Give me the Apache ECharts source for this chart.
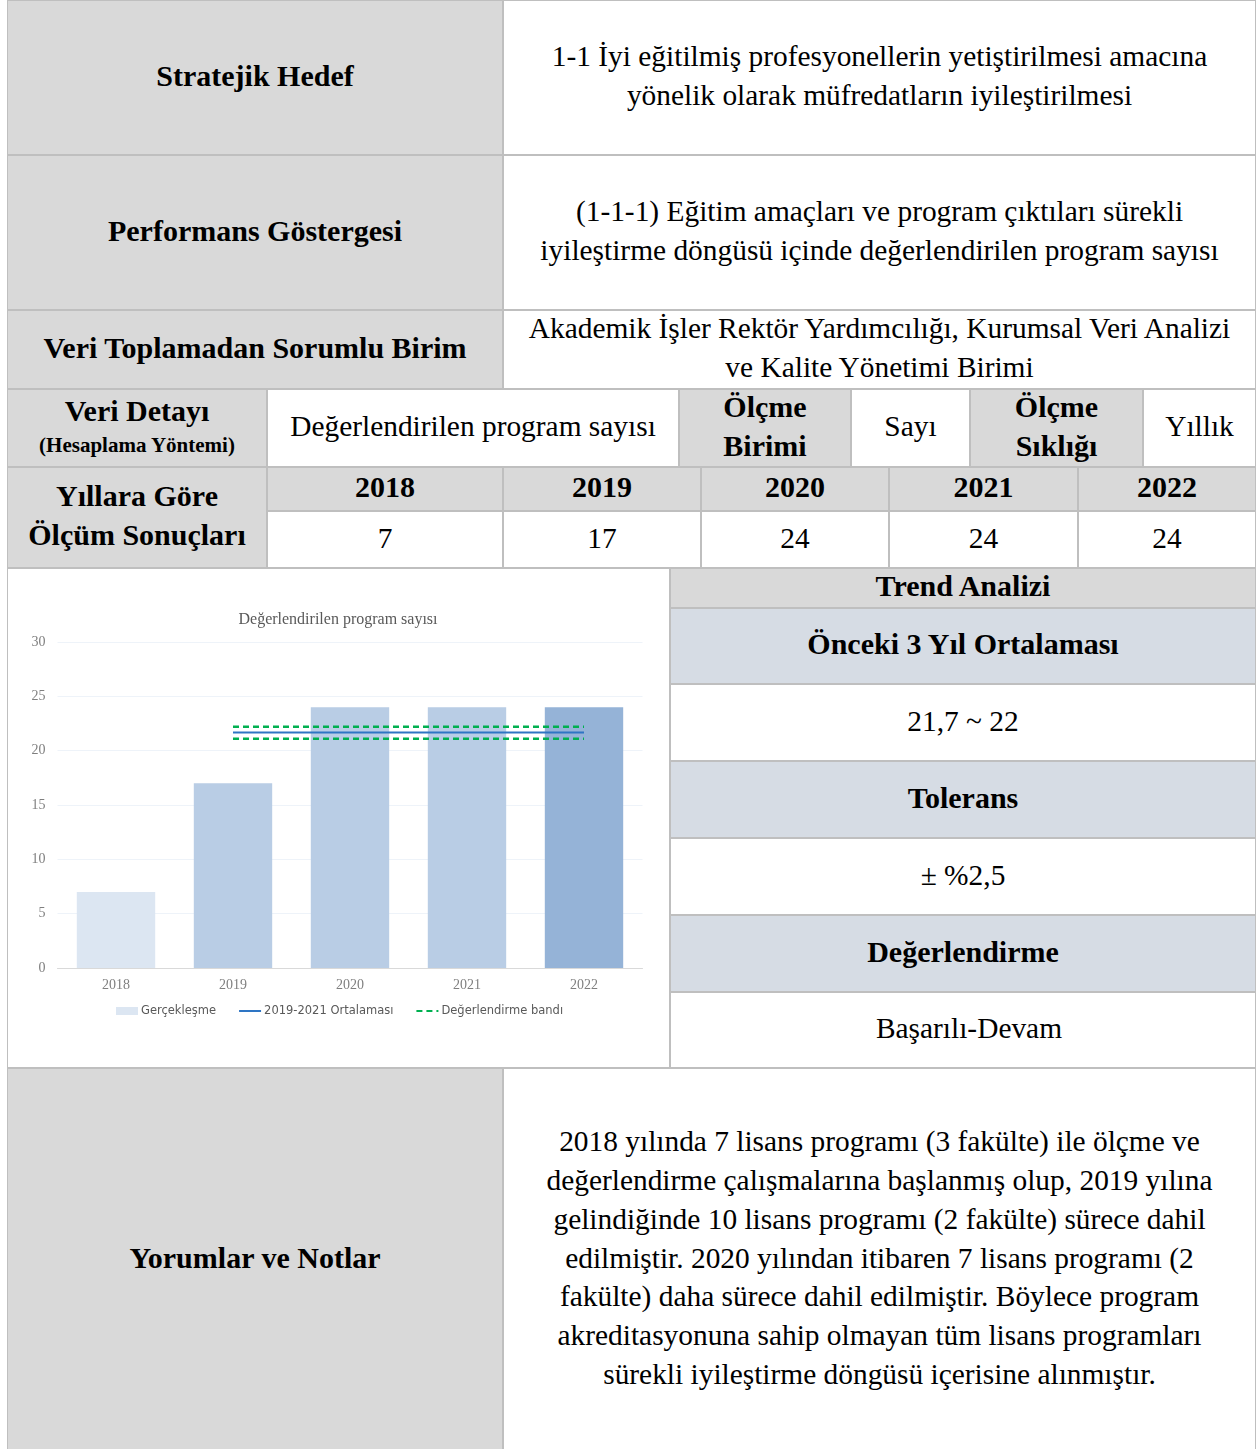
<!DOCTYPE html>
<html>
<head>
<meta charset="utf-8">
<script src="https://cdn.jsdelivr.net/npm/echarts/dist/echarts.min.js"></script>
<style>
html,body{margin:0;padding:0;background:#fff;}
body{width:1258px;height:1449px;overflow:hidden;position:relative;}
.c{position:absolute;box-sizing:border-box;border:1px solid #bfbfbf;padding-bottom:3px;display:flex;align-items:center;justify-content:center;text-align:center;font-family:'Liberation Serif','Times New Roman',serif;font-size:29.4px;line-height:38.8px;color:#000;white-space:nowrap;}
.c b{font-weight:bold;font-size:30px;}
.c b.s{font-size:21px;line-height:32px;display:block;}
.l{display:block;line-height:36px;}
#chart{position:absolute;left:8px;top:569px;width:660px;height:498px;}
</style>
</head>
<body>
<div id="chart"></div>
<script>
// ---- data ----
const years = ['2018', '2019', '2020', '2021', '2022'];
const measured = [7, 17, 24, 24, 24];
const average = [null, 21.67, 21.67, 21.67, 21.67];
const bandUpper = [null, 22.2, 22.2, 22.2, 22.2];
const bandLower = [null, 21.1, 21.1, 21.1, 21.1];
const yTicks = { min: 0, max: 30, interval: 5 };
const seriesNames = ['Gerçekleşme', '2019-2021 Ortalaması', 'Değerlendirme bandı'];
const chartTitle = 'Değerlendirilen program sayısı';

// ---- table layout ----
const G = '#d9d9d9', B = '#d6dce4', W = '#ffffff';
const cells = [
  [7, 0, 503, 155, G, '<b>Stratejik Hedef</b>'],
  [503, 0, 1256, 155, W, '1-1 İyi eğitilmiş profesyonellerin yetiştirilmesi amacına<br>yönelik olarak müfredatların iyileştirilmesi'],
  [7, 155, 503, 310, G, '<b>Performans Göstergesi</b>'],
  [503, 155, 1256, 310, W, '(1-1-1) Eğitim amaçları ve program çıktıları sürekli<br>iyileştirme döngüsü içinde değerlendirilen program sayısı'],
  [7, 310, 503, 389, G, '<b>Veri Toplamadan Sorumlu Birim</b>'],
  [503, 310, 1256, 389, W, 'Akademik İşler Rektör Yardımcılığı, Kurumsal Veri Analizi<br>ve Kalite Yönetimi Birimi'],
  [7, 389, 267, 467, G, '<div><b class="l">Veri Detayı</b><b class="s">(Hesaplama Yöntemi)</b></div>'],
  [267, 389, 679, 467, W, 'Değerlendirilen program sayısı'],
  [679, 389, 851, 467, G, '<b>Ölçme<br>Birimi</b>'],
  [851, 389, 970, 467, W, 'Sayı'],
  [970, 389, 1143, 467, G, '<b>Ölçme<br>Sıklığı</b>'],
  [1143, 389, 1256, 467, W, 'Yıllık'],
  [7, 467, 267, 568, G, '<b>Yıllara Göre<br>Ölçüm Sonuçları</b>'],
  [7, 568, 670, 1068, W, ''],
  [670, 568, 1256, 608, G, '<b>Trend Analizi</b>'],
  [670, 608, 1256, 684, B, '<b>Önceki 3 Yıl Ortalaması</b>'],
  [670, 684, 1256, 761, W, '21,7 ~ 22'],
  [670, 761, 1256, 838, B, '<b>Tolerans</b>'],
  [670, 838, 1256, 915, W, '± %2,5'],
  [670, 915, 1256, 992, B, '<b>Değerlendirme</b>'],
  [670, 992, 1256, 1068, W, '<span style="padding-left:12px">Başarılı-Devam</span>'],
  [7, 1068, 503, 1451, G, '<b>Yorumlar ve Notlar</b>'],
  [503, 1068, 1256, 1451, W, '2018 yılında 7 lisans programı (3 fakülte) ile ölçme ve<br>değerlendirme çalışmalarına başlanmış olup, 2019 yılına<br>gelindiğinde 10 lisans programı (2 fakülte) sürece dahil<br>edilmiştir. 2020 yılından itibaren 7 lisans programı (2<br>fakülte) daha sürece dahil edilmiştir. Böylece program<br>akreditasyonuna sahip olmayan tüm lisans programları<br>sürekli iyileştirme döngüsü içerisine alınmıştır.']
];
const yearX = [267, 503, 701, 889, 1078, 1256];
years.forEach((y, i) => {
  cells.push([yearX[i], 467, yearX[i + 1], 511, G, '<b>' + y + '</b>']);
  cells.push([yearX[i], 511, yearX[i + 1], 568, W, String(measured[i])]);
});
const chartEl = document.getElementById('chart');
cells.forEach(c => {
  const d = document.createElement('div');
  d.className = 'c';
  d.style.left = c[0] + 'px';
  d.style.top = c[1] + 'px';
  d.style.width = (c[2] - c[0]) + 'px';
  d.style.height = (c[3] - c[1]) + 'px';
  d.style.background = c[4];
  d.innerHTML = c[5];
  document.body.insertBefore(d, chartEl);
});

// ---- chart ----
const barColors = ['#dce6f2', '#b9cde5', '#b9cde5', '#b9cde5', '#95b3d7'];
const chart = echarts.init(chartEl, null, { renderer: 'canvas' });
chart.setOption({
  animation: false,
  backgroundColor: 'transparent',
  title: {
    text: chartTitle,
    left: 'center',
    top: 43,
    padding: 0,
    textStyle: { fontFamily: 'Liberation Serif', fontSize: 16, fontWeight: 'normal', color: '#595959' }
  },
  grid: { left: 49.5, right: 25.5, top: 73, bottom: 99, containLabel: false },
  legend: {
    left: 108,
    top: 436,
    padding: 0,
    itemWidth: 22,
    itemHeight: 8,
    itemGap: 22,
    textStyle: { fontFamily: 'DejaVu Sans', fontSize: 11.5, color: '#595959', padding: [0, 0, 0, -2] },
    data: [
      { name: seriesNames[0], icon: 'rect' },
      { name: seriesNames[1], itemStyle: { opacity: 0 } },
      { name: seriesNames[2], itemStyle: { opacity: 0 } }
    ]
  },
  xAxis: {
    type: 'category',
    data: years,
    axisTick: { show: false },
    axisLine: { lineStyle: { color: '#d9d9d9', width: 1 } },
    axisLabel: { fontFamily: 'Liberation Serif', fontSize: 14, color: '#7f7f7f', margin: 10 }
  },
  yAxis: {
    type: 'value',
    min: yTicks.min,
    max: yTicks.max,
    interval: yTicks.interval,
    axisLine: { show: false },
    axisTick: { show: false },
    splitLine: { lineStyle: { color: '#eef3f9', width: 1 } },
    axisLabel: { fontFamily: 'Liberation Serif', fontSize: 14, color: '#7f7f7f', margin: 12 }
  },
  series: [
    {
      name: seriesNames[0],
      type: 'bar',
      barCategoryGap: '33%',
      itemStyle: { color: barColors[0] },
      data: measured.map((v, i) => ({ value: v, itemStyle: { color: barColors[i] } }))
    },
    {
      name: seriesNames[1],
      type: 'line',
      symbol: 'none',
      data: average,
      lineStyle: { color: '#2e75c4', width: 2 },
      itemStyle: { color: '#2e75c4' },
      z: 5
    },
    {
      name: seriesNames[2],
      type: 'line',
      symbol: 'none',
      data: bandUpper,
      lineStyle: { color: '#00b050', width: 2.5, type: [6, 4] },
      itemStyle: { color: '#00b050' },
      z: 5
    },
    {
      name: seriesNames[2],
      type: 'line',
      symbol: 'none',
      data: bandLower,
      lineStyle: { color: '#00b050', width: 2.5, type: [6, 4] },
      itemStyle: { color: '#00b050' },
      z: 5
    }
  ]
});
</script>
</body>
</html>
